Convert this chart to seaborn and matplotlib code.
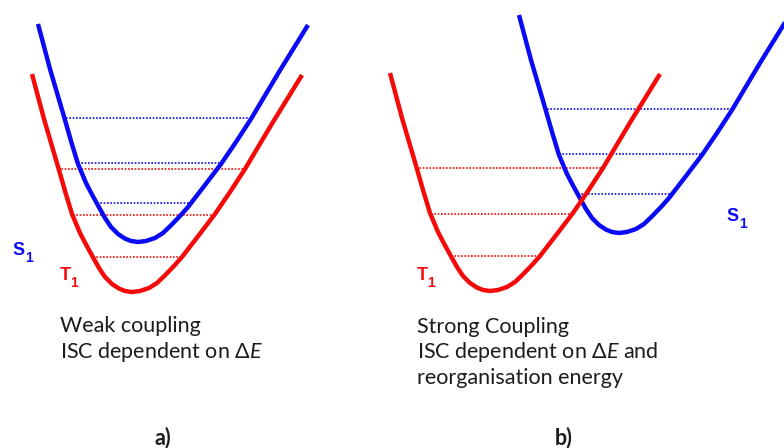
import numpy as np
import pandas as pd
import seaborn as sns
import matplotlib
matplotlib.use("Agg")
import matplotlib.pyplot as plt

# ---- data (pixel units of the 784x448 figure) ----
# shape of one potential-energy well: horizontal offset from the minimum, height above the minimum
well_dx = [-100, -88, -73, -67, -60, -52, -46, -40, -33, -27, -20, -13, -7, 0,
           8, 17, 25, 33, 42, 50, 67, 83, 98, 113, 141, 170]
well_dy = [218, 173, 122, 101, 78, 59, 47.5, 36.5, 24, 15, 8, 3.4, 1, 0,
           1, 4, 9, 16.7, 26, 35, 57, 78, 100, 123, 170, 217]

# the four wells: panel, state, position of the minimum
curve_panel = ["a", "a", "b", "b"]
curve_state = ["S1", "T1", "T1", "S1"]
curve_min_x = [138, 132, 490, 619]
curve_min_y = [242, 292, 291, 233]

# vibrational levels (height above minimum, left/right end relative to the minimum)
s1_level_dy = [39, 79, 124]
s1_level_left = [-41, -60, -72]
s1_level_right = [55, 86, 115]
t1_level_dy = [35, 77, 123]
t1_level_left = [-39, -59, -74]
t1_level_right = [50, 84, 114]

state_colors = {"S1": "#0a0af5", "T1": "#f50a0a"}

caption_a = ["Weak coupling", r"ISC dependent on Δ$\mathit{E}$"]
caption_b = ["Strong Coupling", r"ISC dependent on Δ$\mathit{E}$ and", "reorganisation energy"]
panel_tags = ["a)", "b)"]

# ---- build tables ----
rows = []
for i in range(len(curve_state)):
    for dx, dy in zip(well_dx, well_dy):
        rows.append({"curve": i, "state": curve_state[i],
                     "x": curve_min_x[i] + dx, "y": curve_min_y[i] - dy})
curves = pd.DataFrame(rows)

lvl = []
k = 0
for i in range(len(curve_state)):
    if curve_state[i] == "S1":
        dys, ls, rs = s1_level_dy, s1_level_left, s1_level_right
    else:
        dys, ls, rs = t1_level_dy, t1_level_left, t1_level_right
    for dy, l, r in zip(dys, ls, rs):
        for dx in (l, r):
            lvl.append({"seg": k, "state": curve_state[i],
                        "x": curve_min_x[i] + dx, "y": curve_min_y[i] - dy})
        k += 1
levels = pd.DataFrame(lvl)

# ---- draw ----
sns.set_theme(style="white")
plt.rcParams["font.family"] = ["Lato", "DejaVu Sans"]
plt.rcParams["mathtext.fontset"] = "custom"
plt.rcParams["mathtext.rm"] = "Lato"
plt.rcParams["mathtext.it"] = "Lato:italic"

fig = plt.figure(figsize=(7.84, 4.48), dpi=100)
ax = fig.add_axes([0, 0, 1, 1])

sns.lineplot(data=levels, x="x", y="y", hue="state", units="seg", estimator=None,
             sort=False, palette=state_colors, legend=False, ax=ax,
             linewidth=1.2, linestyle=(0, (1, 1.0)), zorder=1)
sns.lineplot(data=curves, x="x", y="y", hue="state", units="curve", estimator=None,
             sort=False, palette=state_colors, legend=False, ax=ax,
             linewidth=3.2, zorder=2, solid_capstyle="butt", solid_joinstyle="round")

ax.set_xlim(0, 784)
ax.set_ylim(448, 0)
ax.axis("off")

# state labels
lab_font = dict(family="Liberation Sans", weight="bold")
sub_shift = {"S": 13, "T": 10.5}
labels = [("S", 12, 255, "S1"), ("T", 60, 280, "T1"), ("T", 417, 280, "T1"), ("S", 726, 221, "S1")]
for letter, x, y, st in labels:
    ax.text(x, y, letter, fontsize=13, color=state_colors[st], va="baseline", ha="left", **lab_font)
    ax.text(x + sub_shift[letter], y + 7, "1", fontsize=10, color=state_colors[st],
            va="baseline", ha="left", **lab_font)

txt_color = "#1c1c1c"
for j, line in enumerate(caption_a):
    ax.text(60, 332 + 25.5 * j, line, fontsize=15.5, color=txt_color, va="baseline", ha="left")
for j, line in enumerate(caption_b):
    ax.text(417, 333 + 25.5 * j, line, fontsize=15.5, color=txt_color, va="baseline", ha="left")

ax.text(163, 444, panel_tags[0], fontsize=15.5, color=txt_color, weight="bold", va="baseline", ha="center")
ax.text(564, 444, panel_tags[1], fontsize=15.5, color=txt_color, weight="bold", va="baseline", ha="center")

fig.savefig("out.png", dpi=100)
